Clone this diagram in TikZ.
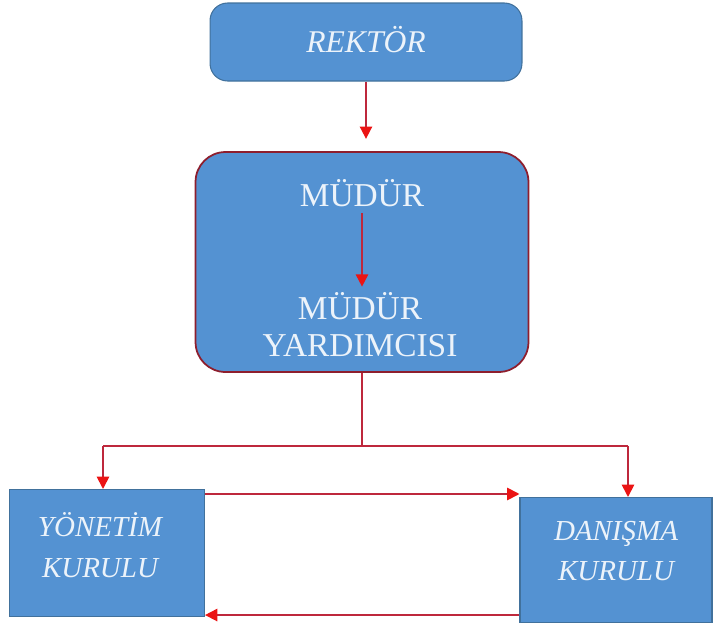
\documentclass[tikz,border=0pt]{standalone}
\usepackage{fontspec}
\setmainfont{Liberation Serif}
\usetikzlibrary{arrows.meta}

\definecolor{boxblue}{RGB}{84,146,210}
\definecolor{boxline}{RGB}{65,113,156}
\definecolor{linered}{RGB}{190,40,60}
\definecolor{tipred}{RGB}{235,20,20}
\definecolor{textwhite}{RGB}{236,243,250}

\tikzset{
  box/.style={draw=boxline, fill=boxblue, line width=0.6pt, inner sep=0pt},
  label/.style={text=textwhite, align=center},
  arrow/.style={draw=linered, line width=1pt, -{Triangle[length=7pt,width=7pt,fill=tipred,color=tipred]}},
  link/.style={draw=linered, line width=1pt}
}

\begin{document}
\begin{tikzpicture}[x=0.02cm, y=-0.02cm]

    % Fix the canvas
    \useasboundingbox (0,0) rectangle (713,627);

    % Draw the boxes
    \node[box, rounded corners=10pt, minimum width=6.24cm, minimum height=1.56cm] (rektor) at (366,42) {};
    \node[box, draw=linered!75!black, line width=1pt, rounded corners=17pt, minimum width=6.66cm, minimum height=4.4cm] (mbox) at (362,262) {};
    \node[box, minimum width=3.9cm, minimum height=2.54cm] (yon) at (107,553) {};
    \node[box, minimum width=3.84cm, minimum height=2.5cm] (dan) at (616,560) {};

    % Label the boxes
    \node[label, font=\fontsize{18}{21}\selectfont] (rektorText) at (366,40) {\itshape REKTÖR};
    \node[label, font=\fontsize{19}{21}\selectfont] (mudur) at (362,193) {MÜDÜR};
    \node[label, font=\fontsize{19}{21}\selectfont] (yard) at (360,325) {MÜDÜR\\YARDIMCISI};
    \node[label, font=\fontsize{16.5}{23}\selectfont] (yonText) at (100,545) {\itshape YÖNETİM\\\itshape KURULU};
    \node[label, font=\fontsize{16.5}{23}\selectfont] (danText) at (616,551) {\itshape DANIŞMA\\\itshape KURULU};

    % Split points of the lower branch
    \coordinate (split) at (362,446);
    \coordinate (lsplit) at (103,446);
    \coordinate (rsplit) at (628,446);

    % Draw the connectors
    \draw[arrow, shorten >=7pt] (rektor.south) -- (rektor.south |- mbox.north);
    \draw[arrow] (mudur.south) -- (mudur.south |- yard.north);
    \draw[link] (mbox.south) -- (split);
    \draw[link] (lsplit) -- (rsplit);
    \draw[arrow] (lsplit) -- (lsplit |- yon.north);
    \draw[arrow] (rsplit) -- (rsplit |- dan.north);

    % Arrows between the boards
    \draw[arrow] ([yshift=-0.1cm]yon.north east) -- ([yshift=-0.1cm]yon.north east -| dan.west);
    \draw[arrow] ([yshift=0.16cm]dan.south west) -- ([yshift=0.16cm]dan.south west -| yon.east);

\end{tikzpicture}
\end{document}
